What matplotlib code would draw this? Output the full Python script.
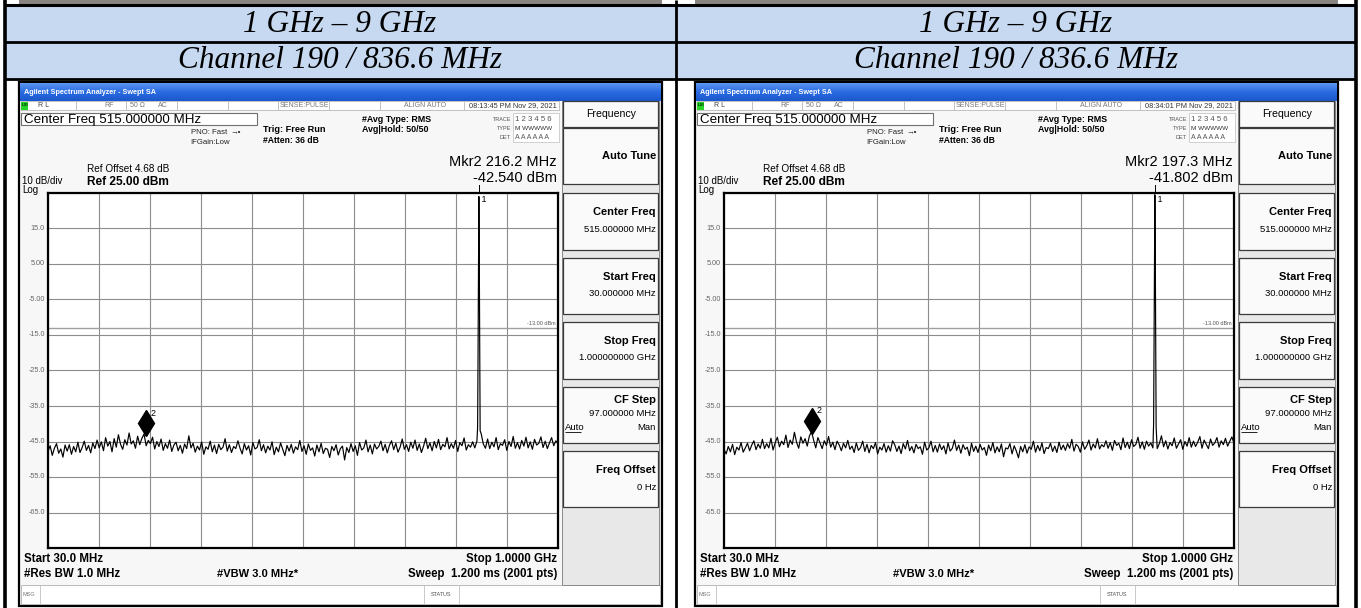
import numpy as np
import matplotlib
matplotlib.use("Agg")
import matplotlib.pyplot as plt
from matplotlib.patches import Rectangle
from matplotlib import transforms

# ---------------- data ----------------
band_labels = ["1 GHz – 9 GHz", "1 GHz – 9 GHz"]
channel_labels = ["Channel 190 / 836.6 MHz", "Channel 190 / 836.6 MHz"]
start_mhz, stop_mhz = 30.0, 1000.0
ref_level_dbm, db_per_div = 25.0, 10.0
y_tick_values = [15.0, 5.0, -5.0, -15.0, -25.0, -35.0, -45.0, -55.0, -65.0]
y_tick_labels = ["15.0", "5.00", "-5.00", "-15.0", "-25.0", "-35.0", "-45.0", "-55.0", "-65.0"]
limit_line_dbm = -13.0
timestamps = ["08:13:45 PM Nov 29, 2021", "08:34:01 PM Nov 29, 2021"]
marker2_freqs = [216.2, 197.3]
marker2_levels = [-42.540, -41.802]
marker2_texts = [("Mkr2 216.2 MHz", "-42.540 dBm"), ("Mkr2 197.3 MHz", "-41.802 dBm")]

peak_freqs = [847.1, 847.9, 848.7, 849.5, 850.3, 851.1, 851.9]
peak_levels_left = [-41.0, -22.0, 4.0, 24.0, 6.0, -20.0, -42.0]
peak_levels_right = [-40.0, -20.0, 5.0, 24.5, 7.0, -19.0, -41.0]

noise_left = [
    -47.8, -46.2, -48.9, -46.9, -45.6, -48.3, -47.1, -49.4, -46.0, -47.7, -45.9, -48.6, -46.4, -47.9, -45.2, -48.1, -46.7, -44.9, -47.5, -46.1,
    -48.2, -45.4, -47.0, -44.6, -46.8, -45.1, -47.6, -43.9, -46.3, -45.0, -47.9, -44.2, -46.6, -43.1, -45.8, -47.2, -44.5, -46.0, -42.6, -45.7,
    -44.8, -46.9, -43.5, -45.9, -44.1, -42.9, -46.2, -44.7, -45.6, -43.8, -47.1, -45.0, -46.4, -44.3, -47.5, -45.6, -46.9, -44.6, -47.8, -46.0,
    -45.2, -47.6, -46.1, -48.3, -45.7, -47.0, -43.4, -46.8, -45.5, -48.0, -46.3, -47.4, -45.1, -48.6, -46.5, -47.2, -44.9, -47.9, -46.0, -48.4,
    -45.8, -47.3, -46.6, -44.2, -47.7, -45.9, -48.1, -46.4, -47.0, -44.8, -46.9, -48.5, -45.6, -47.4, -46.2, -48.8, -45.3, -47.1, -46.7, -44.5,
    -47.6, -45.9, -48.2, -46.3, -47.4, -45.1, -48.7, -46.6, -47.9, -45.4, -47.2, -49.0, -46.1, -47.7, -45.8, -48.3, -46.5, -47.3, -44.7, -47.8,
    -46.2, -48.6, -45.7, -47.5, -46.8, -49.1, -46.0, -47.9, -45.5, -48.4, -46.9, -47.2, -49.5, -46.4, -47.6, -45.9, -48.8, -47.0, -46.3, -50.2,
    -46.7, -48.1, -45.6, -47.8, -46.2, -48.9, -45.3, -47.4, -46.8, -44.6, -47.9, -46.0, -48.5, -45.7, -47.1, -46.4, -44.9, -47.6, -45.8, -48.2,
    -46.1, -44.8, -47.3, -45.5, -48.0, -46.6, -44.3, -47.2, -45.9, -47.8, -45.2, -46.9, -44.6, -47.5, -45.7, -48.1, -46.3, -44.1, -47.0, -45.4,
    -47.6, -45.0, -46.8, -44.4, -47.3, -45.8, -46.5, -43.9, -47.1, -45.6, -46.9, -44.7, -47.8, -45.3, -46.2, -44.0, -47.4, -45.9, -46.6, -45.1,
    -46.8, -44.9, -47.2, -42.8, -45.7, -46.9, -44.3, -47.0, -45.2, -46.5, -43.9, -47.3, -45.6, -46.1, -44.5, -47.5, -45.0, -46.4, -43.6, -46.9,
    -45.3, -47.1, -44.7, -46.3, -43.8, -46.8, -45.1, -47.2, -44.4, -46.0, -45.5, -43.7, -46.7, -44.9, -47.0, -45.4, -43.9, -46.2, -44.8, -45.6,
]
noise_right = [
    -47.2, -48.5, -46.4, -47.9, -45.8, -48.7, -46.6, -47.4, -45.3, -48.0, -46.8, -45.5, -47.6, -46.0, -44.8, -47.3, -45.7, -46.9, -44.4, -47.0,
    -45.6, -46.8, -44.1, -47.4, -45.3, -43.8, -46.5, -44.9, -45.9, -43.2, -46.7, -44.6, -45.8, -42.4, -45.2, -46.9, -43.7, -45.5, -44.2, -46.3,
    -43.5, -42.2, -44.6, -46.8, -43.9, -45.4, -47.0, -44.8, -46.1, -43.6, -46.6, -45.2, -47.3, -44.9, -46.0, -47.6, -45.5, -46.8, -44.7, -47.2,
    -46.3, -48.1, -45.4, -47.5, -46.7, -44.9, -47.8, -45.8, -48.2, -46.1, -47.0, -45.3, -48.5, -46.6, -47.4, -45.6, -48.0, -46.2, -47.7, -44.8,
    -45.9, -47.8, -46.3, -48.4, -45.6, -47.1, -44.7, -47.6, -46.4, -48.2, -45.8, -47.0, -46.5, -48.6, -45.2, -47.4, -46.8, -44.9, -47.9, -46.1,
    -48.0, -45.7, -47.3, -46.2, -48.5, -45.4, -47.7, -46.9, -44.6, -47.5, -46.0, -48.3, -45.9, -47.2, -46.6, -49.0, -45.5, -47.8, -46.3, -48.1,
    -45.8, -47.4, -46.7, -48.9, -46.0, -47.6, -45.3, -48.2, -46.5, -47.9, -45.7, -49.3, -46.8, -47.1, -45.6, -48.5, -46.2, -47.7, -49.6, -46.4,
    -47.9, -45.9, -48.3, -46.5, -47.2, -44.9, -48.0, -46.1, -47.6, -45.4, -48.4, -46.7, -47.0, -45.5, -47.8, -46.3, -48.1, -45.2, -47.3, -46.0,
    -47.5, -45.6, -46.9, -44.4, -47.7, -45.8, -46.4, -48.0, -45.1, -47.2, -46.2, -44.6, -47.4, -45.7, -46.8, -44.2, -47.1, -45.9, -46.5, -44.8,
    -46.9, -45.3, -47.5, -44.7, -46.1, -45.5, -47.3, -44.0, -46.7, -45.2, -47.0, -44.5, -46.4, -45.8, -43.8, -46.9, -45.1, -47.2, -44.9, -46.3,
    -45.4, -46.8, -44.2, -47.0, -45.6, -43.4, -46.5, -44.8, -47.1, -45.3, -46.2, -44.0, -46.9, -45.7, -44.5, -47.2, -45.0, -46.3, -43.9, -46.6,
    -44.9, -46.4, -45.2, -43.6, -46.9, -44.6, -45.8, -47.0, -44.3, -46.1, -45.4, -43.9, -46.6, -44.8, -45.9, -44.1, -46.3, -45.0, -43.7, -45.5,
]

softkeys = [
    ("Frequency", None, None),
    ("Auto Tune", None, None),
    ("Center Freq", "515.000000 MHz", None),
    ("Start Freq", "30.000000 MHz", None),
    ("Stop Freq", "1.000000000 GHz", None),
    ("CF Step", "97.000000 MHz", ("Auto", "Man")),
    ("Freq Offset", "0 Hz", None),
]

# ---------------- figure ----------------
W, H = 1361, 608
fig = plt.figure(figsize=(W / 100, H / 100), dpi=100)
bg = fig.add_axes([0, 0, 1, 1])
bg.set_xlim(0, W)
bg.set_ylim(H, 0)
bg.axis("off")

UI = ["Liberation Sans", "DejaVu Sans"]
NARROW = ["Liberation Sans Narrow", "Liberation Sans", "DejaVu Sans"]
SERIF = ["Liberation Serif", "DejaVu Serif"]


def R(x0, y0, x1, y1, fc="none", ec="none", lw=0.0, z=1):
    bg.add_patch(Rectangle((x0, y0), x1 - x0, y1 - y0, facecolor=fc, edgecolor=ec, linewidth=lw, zorder=z))


def T(x, y, s, size, ha="left", va="center", weight="normal", color="black", family=UI, **kw):
    bg.text(x, y, s, fontsize=size, ha=ha, va=va, fontweight=weight, color=color, family=family, **kw)


def L(xs, ys, color="black", lw=1.0, z=3):
    bg.plot(xs, ys, color=color, lw=lw, zorder=z, solid_capstyle="butt")


# ---------------- document table ----------------
BLUE = "#C6D9F1"
R(5, 5, 1356, 79, fc=BLUE)
for ox in (0, 676):
    R(19 + ox, 0, 662 + ox, 4, fc="#8a8580")
L([5, 1356], [4.5, 4.5], lw=2.2)
L([5, 1356], [42, 42], lw=2.0)
L([5, 1356], [79, 79], lw=2.0)
for x, lw in ((5, 2.6), (676, 2.0), (1356, 2.6)):
    L([x, x], [0, H], lw=lw, z=4)
for i, cx in enumerate((340, 1016)):
    T(cx, 24, band_labels[i], 22.5, ha="center", family=SERIF, style="italic")
    T(cx, 61, channel_labels[i], 22.5, ha="center", family=SERIF, style="italic")


# ---------------- analyzer screenshots ----------------
PX0, PX1, PY0, PY1 = 48, 558, 193, 548


def draw_analyzer(ox, idx, noise, peak_levels):
    R(19 + ox, 82, 662 + ox, 606, fc="#F7F7F7", ec="black", lw=1.6, z=1)
    grad = np.linspace(0, 1, 20).reshape(-1, 1)
    cmap = matplotlib.colors.LinearSegmentedColormap.from_list("tb", ["#5A93F0", "#2A6BE0", "#1C58CF"])
    bg.imshow(grad, extent=(20 + ox, 661 + ox, 101, 83), aspect="auto", cmap=cmap, zorder=2)
    T(24 + ox, 92, "Agilent Spectrum Analyzer - Swept SA", 5.2, color="white", weight="bold", family=NARROW, zorder=3)

    # status row
    R(21 + ox, 101, 559 + ox, 110, fc="white", ec="#B8B8B8", lw=0.6, z=2)
    for dx in (76, 126, 177, 228, 278, 329, 380, 464):
        L([dx + ox, dx + ox], [101, 110], color="#B8B8B8", lw=0.6)
    R(21 + ox, 101.5, 28 + ox, 109.5, fc="#27D427", z=3)
    T(22 + ox, 105.5, "LXI", 3.2, color="#003300", weight="bold", zorder=4)
    T(38 + ox, 105.5, "R L", 5.0, color="#444444", zorder=4)
    T(114 + ox, 105.5, "RF", 5.0, ha="right", color="#777777", zorder=4)
    T(130 + ox, 105.5, "50 Ω", 5.0, color="#777777", zorder=4)
    T(158 + ox, 105.5, "AC", 5.0, color="#777777", zorder=4)
    T(304 + ox, 105.5, "SENSE:PULSE", 5.0, ha="center", color="#777777", zorder=4)
    T(446 + ox, 105.5, "ALIGN AUTO", 5.0, ha="right", color="#777777", zorder=4)
    T(557 + ox, 105.5, timestamps[idx], 5.3, ha="right", color="#333333", zorder=4)

    # header block
    R(21 + ox, 113, 257 + ox, 125, fc="white", ec="#707070", lw=0.8, z=2)
    T(24 + ox, 119.5, "Center Freq 515.000000 MHz", 9.6, zorder=4)
    T(227 + ox, 132, "PNO: Fast", 5.6, ha="right", color="#222222")
    T(230 + ox, 132, "\u2192\u2022", 5.6, color="#222222")
    T(230 + ox, 143, "IFGain:Low", 5.6, ha="right", color="#222222")
    T(263 + ox, 130, "Trig: Free Run", 6.6, weight="bold")
    T(263 + ox, 140.5, "#Atten: 36 dB", 6.2, weight="bold")
    T(362 + ox, 119, "#Avg Type: RMS", 6.4, weight="bold")
    T(362 + ox, 129, "Avg|Hold: 50/50", 6.4, weight="bold")
    R(513 + ox, 113, 559 + ox, 142, fc="white", ec="#C8C8C8", lw=0.6, z=2)
    T(511 + ox, 119.5, "TRACE", 4.0, ha="right", color="#555555")
    T(511 + ox, 128.5, "TYPE", 4.0, ha="right", color="#555555")
    T(511 + ox, 137.5, "DET", 4.0, ha="right", color="#555555")
    T(515 + ox, 119.5, "1 2 3 4 5 6", 5.6, color="#555555", zorder=4)
    T(515 + ox, 128.5, "M WWWWW", 4.6, color="#333333", zorder=4)
    T(515 + ox, 137.5, "A A A A A A", 5.0, color="#555555", zorder=4)

    T(557 + ox, 162, marker2_texts[idx][0], 10.5, ha="right")
    T(557 + ox, 177.5, marker2_texts[idx][1], 10.5, ha="right")
    T(87 + ox, 169.5, "Ref Offset 4.68 dB", 7.2)
    T(87 + ox, 182, "Ref 25.00 dBm", 8.6, weight="bold")
    T(22 + ox, 181.5, "10 dB/div", 7.0)
    T(22 + ox, 189.8, "Log", 7.0)

    # bottom annotation
    T(24 + ox, 559, "Start 30.0 MHz", 8.3, weight="bold")
    T(557 + ox, 559, "Stop 1.0000 GHz", 8.3, ha="right", weight="bold")
    T(24 + ox, 574, "#Res BW 1.0 MHz", 8.3, weight="bold")
    T(217 + ox, 574, "#VBW 3.0 MHz*", 8.0, weight="bold")
    T(557 + ox, 574, "Sweep  1.200 ms (2001 pts)", 8.3, ha="right", weight="bold")

    # message bar
    R(21 + ox, 585, 660 + ox, 604, fc="white", ec="#B0B0B0", lw=0.6, z=2)
    L([40 + ox, 40 + ox], [585, 604], color="#C0C0C0", lw=0.6)
    L([424 + ox, 424 + ox], [585, 604], color="#C0C0C0", lw=0.6)
    L([459 + ox, 459 + ox], [585, 604], color="#C0C0C0", lw=0.6)
    T(23 + ox, 594.5, "MSG", 4.0, color="#777777", zorder=4)
    T(441.5 + ox, 594.5, "STATUS", 4.0, ha="center", color="#555555", zorder=4)

    # softkey panel
    R(562 + ox, 101, 659 + ox, 585, fc="#E8E8E8", ec="#888888", lw=0.7, z=2)
    boxes = [(101, 127), (128, 184), (193, 250), (258, 314), (322, 379), (387, 443), (451, 507)]
    for (top, bot), (lab, val, opts) in zip(boxes, softkeys):
        R(563 + ox, top, 658 + ox, bot, fc="#FAFAFA", ec="#3A3A3A", lw=0.9, z=3)
        if lab == "Frequency":
            T(611 + ox, 114, lab, 7.6, ha="center", zorder=4)
        elif val is None:
            T(656 + ox, (top + bot) / 2, lab, 8.0, ha="right", weight="bold", zorder=4)
        elif opts is None:
            T(656 + ox, top + 19, lab, 8.0, ha="right", weight="bold", zorder=4)
            T(656 + ox, top + 36, val, 6.8, ha="right", zorder=4)
        else:
            T(656 + ox, top + 13, lab, 8.0, ha="right", weight="bold", zorder=4)
            T(656 + ox, top + 26, val, 6.8, ha="right", zorder=4)
            T(565 + ox, top + 40, opts[0], 6.8, zorder=4)
            L([565 + ox, 581 + ox], [top + 45, top + 45], lw=0.6, z=4)
            T(656 + ox, top + 40, opts[1], 6.8, ha="right", zorder=4)

    # ---- plot area ----
    ax = fig.add_axes([(PX0 + ox) / W, 1 - PY1 / H, (PX1 - PX0) / W, (PY1 - PY0) / H])
    ax.set_facecolor("white")
    ax.set_xlim(start_mhz, stop_mhz)
    ax.set_ylim(ref_level_dbm - 10 * db_per_div, ref_level_dbm)
    ax.set_xticks(np.linspace(start_mhz, stop_mhz, 11))
    ax.set_yticks(np.arange(ref_level_dbm - 10 * db_per_div, ref_level_dbm + 1, db_per_div))
    ax.grid(True, color="#8C8C8C", lw=0.8)
    ax.tick_params(length=0, labelbottom=False, labelleft=False)
    for sp in ax.spines.values():
        sp.set_linewidth(1.6)
        sp.set_color("black")
    ax.axhline(limit_line_dbm, color="#A0A0A0", lw=1.0, zorder=2)
    yblend = transforms.blended_transform_factory(ax.transAxes, ax.transData)
    ax.text(0.996, limit_line_dbm + 0.6, "-13.00 dBm", transform=yblend, ha="right", va="bottom",
            fontsize=4.0, color="#555555", family=UI)
    for v, lab in zip(y_tick_values, y_tick_labels):
        ax.text(-0.006, v, lab, transform=yblend, ha="right", va="center", fontsize=5.2,
                color="#666666", family=UI, clip_on=False)

    # trace: sweep noise + carrier spike
    f_noise = np.linspace(start_mhz, stop_mhz, len(noise))
    noise = np.asarray(noise)
    keep = (f_noise < min(peak_freqs)) | (f_noise > max(peak_freqs))
    f_all = np.concatenate([f_noise[keep], peak_freqs])
    l_all = np.concatenate([noise[keep], peak_levels])
    order = np.argsort(f_all)
    ax.plot(f_all[order], l_all[order], color="black", lw=0.85, zorder=3)

    # marker 1 at the peak
    pk = peak_freqs[int(np.argmax(peak_levels))]
    xblend = transforms.blended_transform_factory(ax.transData, ax.transAxes)
    ax.plot([pk, pk], [1.0, 1.022], transform=xblend, color="black", lw=0.7, clip_on=False)
    ax.text(pk, 0.995, " 1", transform=xblend, ha="left", va="top", fontsize=6.5, family=UI)

    # marker 2 diamond (tip at the marker point)
    shift = transforms.ScaledTranslation(0, 0.095, fig.dpi_scale_trans)
    ax.plot([marker2_freqs[idx]], [marker2_levels[idx]], marker="d", ms=13.5, color="black",
            transform=ax.transData + shift, zorder=5, clip_on=False)
    ax.annotate("2", (marker2_freqs[idx], marker2_levels[idx]), xytext=(3.2, 14), textcoords="offset points",
                fontsize=6.5, family=UI, ha="left", va="center")


draw_analyzer(0, 0, noise_left, peak_levels_left)
draw_analyzer(676, 1, noise_right, peak_levels_right)

bg.set_xlim(0, W)
bg.set_ylim(H, 0)
fig.savefig("out.png", dpi=100)
